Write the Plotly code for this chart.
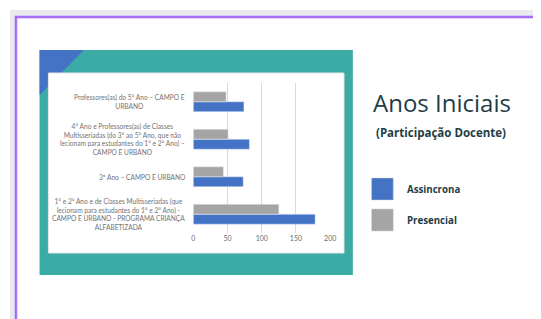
import plotly.graph_objects as go

W, H = 541, 319
OFF = 8  # browser body margin

categories = [
    "1° e 2° Ano e de Classes Multisseriadas (que<br>lecionam para estudantes do 1° e 2° Ano) -<br>CAMPO E URBANO - PROGRAMA CRIANÇA<br>ALFABETIZADA",
    "3º Ano – CAMPO E URBANO",
    "4° Ano e Professores(as) de Classes<br>Multisseriadas (do 3° ao 5° Ano, que não<br>lecionam para estudantes do 1° e 2° Ano) –<br>CAMPO E URBANO",
    "Professores(as) do 5° Ano – CAMPO E<br>URBANO",
]
assincrona = [178, 73, 82, 74]
presencial = [125, 44, 51, 48]
x_ticks = [0, 50, 100, 150, 200]
series_names = ["Assincrona", "Presencial"]

BLUE = "#4472c4"
GRAY = "#a5a5a5"
TEAL = "#3aaba5"


def px(x):
    return (x - OFF) / W


def py(y):
    return 1 - (y - OFF) / H


fig = go.Figure()
fig.add_trace(go.Bar(y=categories, x=assincrona, orientation="h", name=series_names[0],
                     marker=dict(color=BLUE), showlegend=False))
fig.add_trace(go.Bar(y=categories, x=presencial, orientation="h", name=series_names[1],
                     marker=dict(color=GRAY), showlegend=False))

shapes = [
    # slide background strips
    dict(type="rect", xref="paper", yref="paper", x0=px(8), x1=px(W + 20), y0=py(H + 20), y1=py(10),
         fillcolor="#e9e9ee", line=dict(width=0), layer="below"),
    dict(type="rect", xref="paper", yref="paper", x0=px(14), x1=px(W + 20), y0=py(H + 20), y1=py(17),
         fillcolor="#ffffff", line=dict(width=3, color="#c7a6fb"), layer="below"),
    dict(type="rect", xref="paper", yref="paper", x0=px(14), x1=px(W + 20), y0=py(H + 20), y1=py(17),
         fillcolor="rgba(0,0,0,0)", line=dict(width=1.5, color="#9d5ff5"), layer="below"),
    # teal frame
    dict(type="rect", xref="paper", yref="paper", x0=px(38), x1=px(356), y0=py(275), y1=py(50),
         fillcolor=TEAL, line=dict(width=0), layer="below"),
    # blue corner triangle
    dict(type="path", xref="paper", yref="paper",
         path=f"M {px(38)},{py(50)} L {px(83)},{py(50)} L {px(38)},{py(95)} Z",
         fillcolor=BLUE, line=dict(width=0), layer="below"),
    # white inner box
    dict(type="rect", xref="paper", yref="paper", x0=px(47), x1=px(347), y0=py(253), y1=py(73),
         fillcolor="#ffffff", line=dict(width=1, color="#e4e4e4"), layer="below"),
    # legend squares
    dict(type="rect", xref="paper", yref="paper", x0=px(375), x1=px(397), y0=py(200), y1=py(178),
         fillcolor=BLUE, line=dict(width=0.5, color="#d0d0d0")),
    dict(type="rect", xref="paper", yref="paper", x0=px(375), x1=px(397), y0=py(231), y1=py(209),
         fillcolor=GRAY, line=dict(width=0.5, color="#d0d0d0")),
]

annotations = []
for c in categories:
    annotations.append(dict(x=px(188), y=c, xref="paper", yref="y", text=c, showarrow=False,
                            xanchor="right", yanchor="middle", align="center",
                            font=dict(family="Lato, Open Sans, sans-serif", size=6.6, color="#737373")))

annotations += [
    dict(x=px(374), y=py(102), xref="paper", yref="paper", text="Anos Iniciais", showarrow=False,
         xanchor="left", yanchor="middle",
         font=dict(family="Open Sans, sans-serif", size=24, weight=500, color="#1e3d47")),
    dict(x=px(377), y=py(133), xref="paper", yref="paper", text="<b>(Participação Docente)</b>",
         showarrow=False, xanchor="left", yanchor="middle",
         font=dict(family="Open Sans, sans-serif", size=11.5, color="#1e3d47")),
    dict(x=px(409), y=py(189), xref="paper", yref="paper", text="<b>" + series_names[0] + "</b>",
         showarrow=False, xanchor="left", yanchor="middle",
         font=dict(family="Open Sans, sans-serif", size=9.7, color="#1e3d47")),
    dict(x=px(409), y=py(220), xref="paper", yref="paper", text="<b>" + series_names[1] + "</b>",
         showarrow=False, xanchor="left", yanchor="middle",
         font=dict(family="Open Sans, sans-serif", size=9.7, color="#1e3d47")),
]

fig.update_layout(
    width=W, height=H,
    margin=dict(l=0, r=0, t=0, b=0),
    paper_bgcolor="#ffffff",
    plot_bgcolor="rgba(0,0,0,0)",
    barmode="group",
    bargap=0.47,
    bargroupgap=0,
    shapes=shapes,
    annotations=annotations,
    showlegend=False,
    xaxis=dict(domain=[px(194), px(333)], range=[0, 200], tickvals=x_ticks,
               showgrid=True, gridcolor="#d9d9d9", gridwidth=1, zeroline=False,
               showline=False, ticks="",
               tickfont=dict(family="Lato, Open Sans, sans-serif", size=7, color="#6b6b6b")),
    yaxis=dict(domain=[py(233), py(83)], showticklabels=False, showgrid=False,
               zeroline=False, showline=False, ticks="", range=[-0.5, 3.5]),
)

fig.write_html("out.html")
